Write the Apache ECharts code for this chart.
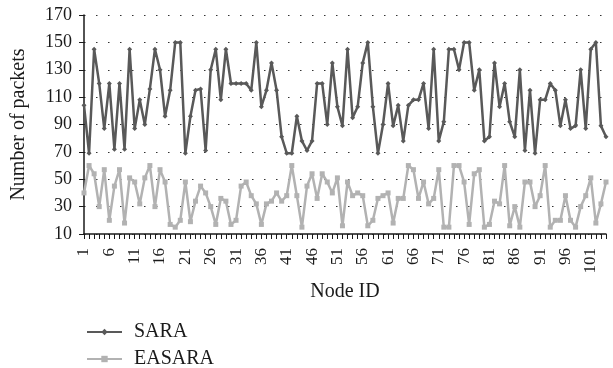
<!DOCTYPE html>
<html>
<head>
    <meta http-equiv="Content-Type" content="text/html; charset=utf-8"/>
    <title>SARA vs EASARA</title>
    <style type="text/css">
        html, body { margin: 0; padding: 0; background: #fff; }
        #container { width: 613px; height: 368px; }
    </style>
</head>
<body>
<div id="container"></div>
<script src="https://cdn.jsdelivr.net/npm/echarts@6/dist/echarts.min.js"></script>
<script type="text/javascript">
    // node ids 1..104
    var nodeIds = [];
    for (var i = 1; i <= 104; i++) { nodeIds.push(String(i)); }

    var sara = [
        104, 69, 145, 120, 87, 120, 72, 120, 72, 145,
        87, 108, 90, 116, 145, 130, 96, 115, 150, 150,
        69, 96, 115, 116, 71, 130, 145, 108, 145, 120,
        120, 120, 120, 115, 150, 103, 115, 135, 115, 81,
        69, 69, 96, 78, 71, 78, 120, 120, 90, 135,
        103, 89, 145, 95, 103, 135, 150, 103, 69, 90,
        120, 89, 104, 78, 104, 108, 108, 120, 87, 145,
        78, 92, 145, 145, 130, 150, 150, 115, 130, 78,
        81, 135, 103, 120, 92, 81, 130, 71, 115, 69,
        108, 108, 120, 115, 89, 108, 87, 89, 130, 87,
        145, 150, 89, 81
    ];
    var easara = [
        40, 60, 54, 30, 57, 20, 45, 57, 18, 51,
        48, 32, 51, 60, 30, 57, 48, 17, 15, 20,
        48, 19, 34, 45, 40, 30, 17, 36, 34, 17,
        20, 45, 48, 38, 32, 17, 32, 34, 40, 34,
        38, 60, 38, 15, 45, 54, 36, 54, 48, 40,
        51, 16, 48, 38, 40, 38, 16, 20, 36, 38,
        40, 18, 36, 36, 60, 57, 36, 48, 32, 36,
        57, 15, 15, 60, 60, 48, 17, 54, 57, 15,
        17, 34, 32, 60, 16, 30, 15, 48, 48, 30,
        38, 60, 15, 20, 20, 38, 20, 15, 30, 38,
        51, 18, 32, 48
    ];

    var font = 'Liberation Serif';
    var ink = '#1a1a1a';
    var myChart = echarts.init(document.getElementById('container'));
    var option = {
        animation: false,
        textStyle: { fontFamily: font, color: ink },
        grid: { left: 84, right: 7, top: 15, bottom: 134 },
        legend: {
            orient: 'vertical',
            left: 86,
            top: 321,
            height: 60,
            padding: 0,
            itemWidth: 35,
            itemHeight: 8,
            itemGap: 5,
            textStyle: { fontFamily: font, fontSize: 20, lineHeight: 22, color: ink, padding: [0, 0, 0, 7] },
            data: ['SARA', 'EASARA']
        },
        xAxis: {
            type: 'category',
            data: nodeIds,
            boundaryGap: false,
            name: 'Node ID',
            nameLocation: 'middle',
            nameGap: 46,
            nameTextStyle: { fontFamily: font, fontSize: 20, color: ink },
            axisLine: { lineStyle: { color: ink, width: 1.5 } },
            axisTick: { interval: 0, length: 5, lineStyle: { color: ink } },
            axisLabel: { interval: 4, rotate: 90, fontFamily: font, fontSize: 17, color: ink, margin: 14 }
        },
        yAxis: {
            type: 'value',
            min: 10,
            max: 170,
            interval: 20,
            name: 'Number of packets',
            nameLocation: 'middle',
            nameGap: 55,
            nameTextStyle: { fontFamily: font, fontSize: 20, color: ink },
            axisLine: { show: true, lineStyle: { color: ink, width: 1.5 } },
            axisTick: { show: true, length: 5, lineStyle: { color: ink } },
            axisLabel: { fontFamily: font, fontSize: 18, color: ink, margin: 12 },
            splitLine: { lineStyle: { color: '#333', width: 1, type: [1.5, 10.5] } }
        },
        series: [
            {
                name: 'SARA',
                type: 'line',
                data: sara,
                showAllSymbol: true,
                symbol: 'diamond',
                symbolSize: 5,
                lineStyle: { color: '#595959', width: 2.5 },
                itemStyle: { color: '#595959' }
            },
            {
                name: 'EASARA',
                type: 'line',
                data: easara,
                showAllSymbol: true,
                symbol: 'rect',
                symbolSize: 5,
                lineStyle: { color: '#b2b2b2', width: 2.5 },
                itemStyle: { color: '#b2b2b2' }
            }
        ]
    };
    myChart.setOption(option);
</script>
</body>
</html>
